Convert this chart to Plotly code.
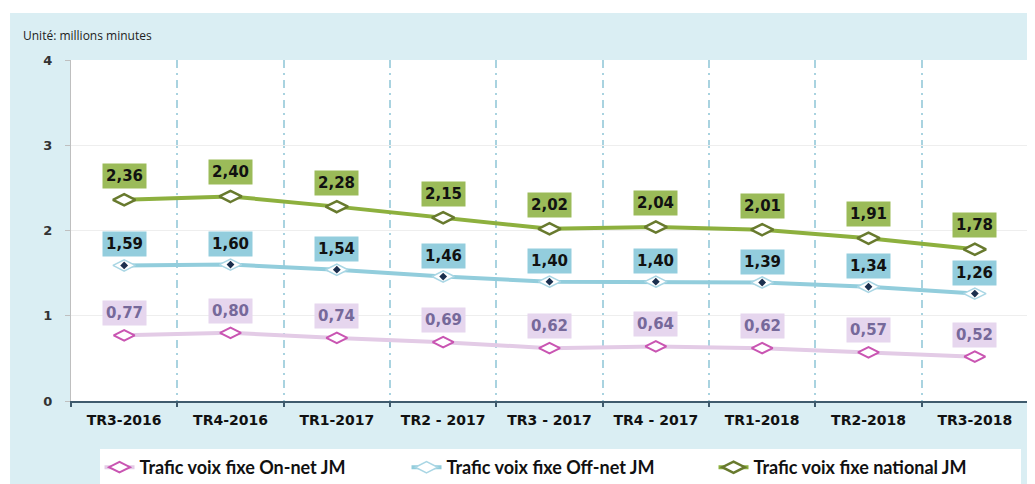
import plotly.graph_objects as go

categories = ["TR3-2016", "TR4-2016", "TR1-2017", "TR2 - 2017", "TR3 - 2017",
              "TR4 - 2017", "TR1-2018", "TR2-2018", "TR3-2018"]
on_net = [0.77, 0.80, 0.74, 0.69, 0.62, 0.64, 0.62, 0.57, 0.52]
off_net = [1.59, 1.60, 1.54, 1.46, 1.40, 1.40, 1.39, 1.34, 1.26]
national = [2.36, 2.40, 2.28, 2.15, 2.02, 2.04, 2.01, 1.91, 1.78]
y_ticks = [0, 1, 2, 3, 4]

xs = list(range(len(categories)))

def fr(v):
    return f"{v:.2f}".replace(".", ",")

fig = go.Figure()

fig.add_trace(go.Scatter(
    x=xs, y=on_net, mode="lines+markers", name="Trafic voix fixe On-net JM",
    line=dict(color="#E3CBE6", width=4),
    marker=dict(symbol="diamond-wide", size=15, color="white",
                line=dict(color="#C955B2", width=2)),
    legendgroup="on"))

fig.add_trace(go.Scatter(
    x=xs, y=off_net, mode="lines+markers", name="Trafic voix fixe Off-net JM",
    line=dict(color="#92CDDC", width=4),
    marker=dict(symbol="diamond-wide", size=16, color="white",
                line=dict(color="#A9D6E4", width=1.5)),
    legendgroup="off"))
fig.add_trace(go.Scatter(
    x=xs, y=off_net, mode="markers", showlegend=False, hoverinfo="skip",
    marker=dict(symbol="diamond", size=6, color="#1B2F4E"),
    legendgroup="off"))

fig.add_trace(go.Scatter(
    x=xs, y=national, mode="lines+markers", name="Trafic voix fixe national JM",
    line=dict(color="#8DB03E", width=4),
    marker=dict(symbol="diamond-wide", size=16, color="white",
                line=dict(color="#687A2E", width=2.5)),
    legendgroup="nat"))

annotations = []
label_font = "DejaVu Sans"
for i in xs:
    annotations.append(dict(x=i, y=national[i], text=f"<b>{fr(national[i])}</b>",
                            showarrow=False, yshift=24, bgcolor="#9BBB59",
                            borderpad=3, font=dict(family=label_font, size=15, color="#111111")))
    annotations.append(dict(x=i, y=off_net[i], text=f"<b>{fr(off_net[i])}</b>",
                            showarrow=False, yshift=21, bgcolor="#93CDDD",
                            borderpad=3, font=dict(family=label_font, size=15, color="#111111")))
    annotations.append(dict(x=i, y=on_net[i], text=f"<b>{fr(on_net[i])}</b>",
                            showarrow=False, yshift=22, bgcolor="#E6D6EE",
                            borderpad=3, font=dict(family=label_font, size=15, color="#76699A")))

annotations.append(dict(xref="paper", yref="paper", x=-0.0522, y=1.073,
                        xanchor="left", yanchor="middle", showarrow=False,
                        text="Unité: millions minutes",
                        font=dict(family="Open Sans", size=12, color="#222222")))

shapes = [
    dict(type="rect", xref="paper", yref="paper", x0=-0.08, x1=1.02, y0=1.138, y1=1.2,
         fillcolor="white", line=dict(width=0), layer="below"),
    dict(type="rect", xref="paper", yref="paper", x0=-0.08, x1=-0.0637, y0=-0.3, y1=1.2,
         fillcolor="white", line=dict(width=0), layer="below"),
]

fig.update_layout(
    width=1027, height=476,
    margin=dict(l=63, r=7, t=52, b=83, autoexpand=False),
    paper_bgcolor="#DAEEF3",
    plot_bgcolor="white",
    showlegend=True,
    legend=dict(orientation="h", xref="container", yref="container",
                x=0.5375, xanchor="center", y=0.0735, yanchor="top",
                bgcolor="white", font=dict(family="Lato", size=18, color="#111111", weight="bold"),
                itemwidth=30, tracegroupgap=0, entrywidth=262, entrywidthmode="pixels"),
    annotations=annotations,
    shapes=shapes,
)

fig.update_xaxes(
    range=[-0.5, 8.5], tickmode="array", tickvals=xs, ticktext=categories,
    showgrid=False, ticks="", showline=True, linecolor="#3F5B6D", linewidth=2,
    tickfont=dict(family="DejaVu Sans", size=14, color="#111111", weight="bold"),
    ticklabelstandoff=5,
    zeroline=False,
    minor=dict(tickmode="linear", tick0=0.5, dtick=1, showgrid=True,
               gridcolor="#A9D3E0", gridwidth=2, griddash="8px,5px,2px,5px",
               ticks="outside", ticklen=4, tickcolor="#3F5B6D", tickwidth=2),
)
fig.update_yaxes(
    range=[0, 4], tickmode="array", tickvals=y_ticks,
    showgrid=True, gridcolor="#EEEEEE", gridwidth=1,
    showline=True, linecolor="#BFBFBF", linewidth=1,
    ticks="outside", ticklen=5, tickcolor="#BFBFBF",
    ticklabelstandoff=10,
    zeroline=False,
    tickfont=dict(family="DejaVu Sans", size=13, color="#333333", weight="bold"),
)

fig.write_html("out.html")
